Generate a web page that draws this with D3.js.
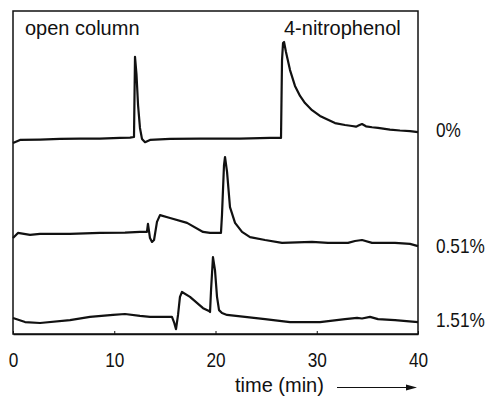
<!DOCTYPE html>
<html>
<head>
<meta charset="utf-8">
<script src="https://cdn.jsdelivr.net/npm/d3@7"></script>
<style>
  body { margin: 0; background: #fff; }
  text { font-family: "Liberation Sans", Arial, sans-serif; fill: #111; }
</style>
</head>
<body>
<svg id="chart" width="490" height="399"></svg>
<script>
// time axis (min)
const xTicks = [0, 10, 20, 30, 40];

// detector response, arbitrary units, traces stacked: [time, signal]
const trace0 = [[0,59.1],[0.69,60.1],[2.67,60.2],[4.64,60.4],[6.62,60.5],[8.59,60.5],[10.57,60.7],[11.56,60.8],
  [11.95,61.0],[12.05,85.8],[12.2,80.2],[12.35,70.9],[12.54,63.8],[12.74,60.4],[13.04,59.4],[13.53,60.1],
  [15.51,60.4],[18.47,60.5],[22.42,60.5],[25.38,60.7],[26.47,60.7],[26.57,84.8],[26.67,90.1],[26.77,90.4],
  [26.96,87.3],[27.36,81.7],[27.85,76.8],[28.35,73.7],[28.84,71.5],[29.53,69.3],[30.32,67.5],[31.11,66.3],
  [31.8,65.3],[32.79,64.7],[33.48,64.4],[33.88,64.2],[34.17,64.6],[34.47,65.0],[34.86,64.3],[35.46,64.0],
  [36.05,63.8],[37.23,63.3],[38.22,63.0],[39.21,62.8],[40,62.5]];

const trace051 = [[0,29.7],[0.49,31.3],[1.68,30.7],[2.67,31.0],[5.63,31.0],[8.59,31.3],[11.06,31.4],[12.54,31.6],
  [13.23,31.6],[13.33,34.1],[13.43,31.9],[13.53,29.7],[13.73,28.5],[13.93,29.1],[14.22,34.7],[14.52,36.8],
  [15.51,35.9],[17.19,34.4],[18.77,31.6],[19.46,31.3],[20.15,31.3],[20.54,31.3],[20.64,36.8],[20.84,52.3],
  [20.94,54.8],[21.14,50.2],[21.43,39.3],[21.93,34.4],[22.62,31.6],[23.41,30.0],[24.89,29.1],[26.57,28.2],
  [29.53,28.5],[31.11,28.2],[33.09,28.2],[33.78,28.8],[34.47,29.1],[35.46,28.2],[37.73,28.2],[39.21,27.9],[40,27.2]];

const trace151 = [[0,4.95],[1.19,3.7],[2.67,3.4],[5.63,4.3],[7.6,5.3],[9.88,5.9],[11.06,6.2],[12.54,5.6],
  [13.53,5.3],[15.7,5.3],[15.9,3.7],[16.1,1.5],[16.3,5.9],[16.49,11.5],[16.69,13.0],[17.48,11.5],[18.77,8.0],
  [19.36,7.1],[19.46,6.8],[19.56,13.6],[19.75,23.8],[19.95,19.8],[20.15,11.5],[20.35,7.4],[20.64,6.5],
  [21.14,5.9],[22.91,5.3],[24.89,4.6],[27.36,3.7],[30.32,3.7],[32.79,4.6],[33.98,5.0],[34.47,4.8],
  [35.26,5.3],[36.05,4.6],[37.73,4.3],[40,3.7]];

const seriesNames = ["0%", "0.51%", "1.51%"];
const seriesData = [trace0, trace051, trace151];
const labelLevels = [61.0, 25.2, 2.2];   // where the % labels sit (signal units)

(function () {
  const svg = d3.select("#chart");
  const plot = { left: 13, right: 418, top: 11, bottom: 334 };
  const narrow = "scale(0.82,1)";   // the original uses a condensed face for figures

  const x = d3.scaleLinear().domain([0, 40]).range([plot.left, plot.right]);
  const y = d3.scaleLinear().domain([0, 100]).range([plot.bottom, plot.top]);

  // frame
  svg.append("rect")
    .attr("x", plot.left).attr("y", plot.top)
    .attr("width", plot.right - plot.left).attr("height", plot.bottom - plot.top)
    .attr("fill", "none").attr("stroke", "#111").attr("stroke-width", 1.5);

  // traces
  const line = d3.line().x(d => x(d[0])).y(d => y(d[1]));
  svg.selectAll(".trace")
    .data(seriesData)
    .enter().append("path")
    .attr("class", "trace")
    .attr("d", line)
    .attr("fill", "none")
    .attr("stroke", "#111")
    .attr("stroke-width", 2.2)
    .attr("stroke-linejoin", "round");

  // x axis
  const xAxis = svg.append("g")
    .attr("transform", `translate(0,${plot.bottom})`)
    .call(d3.axisBottom(x).tickValues(xTicks).tickSizeInner(-3).tickSizeOuter(0).tickPadding(18));
  xAxis.select(".domain").attr("stroke", "#111").attr("stroke-width", 1.5);
  xAxis.selectAll(".tick line").attr("stroke", "#111");
  xAxis.selectAll(".tick text")
    .attr("transform", narrow)
    .style("font-size", "21px")
    .attr("fill", "#111");

  // percentage labels
  svg.selectAll(".pct")
    .data(seriesNames)
    .enter().append("g")
    .attr("class", "pct")
    .attr("transform", (d, i) => `translate(${plot.right + 18},${y(labelLevels[i])})`)
    .append("text")
    .attr("transform", narrow)
    .style("font-size", "21px")
    .text(d => d);

  // peak labels
  svg.append("text").attr("x", 25).attr("y", 35).style("font-size", "20px").text("open column");
  svg.append("text").attr("x", 284).attr("y", 35).style("font-size", "20px").text("4-nitrophenol");

  // axis title + arrow
  svg.append("text").attr("x", 235).attr("y", 392).style("font-size", "20px").text("time (min)");
  svg.append("line")
    .attr("x1", 337).attr("x2", 408).attr("y1", 387.5).attr("y2", 387.5)
    .attr("stroke", "#111").attr("stroke-width", 1.2);
  svg.append("path")
    .attr("d", "M406,384.5 L417,387.5 L406,390.5 Z")
    .attr("fill", "#111");
})();
</script>
</body>
</html>
